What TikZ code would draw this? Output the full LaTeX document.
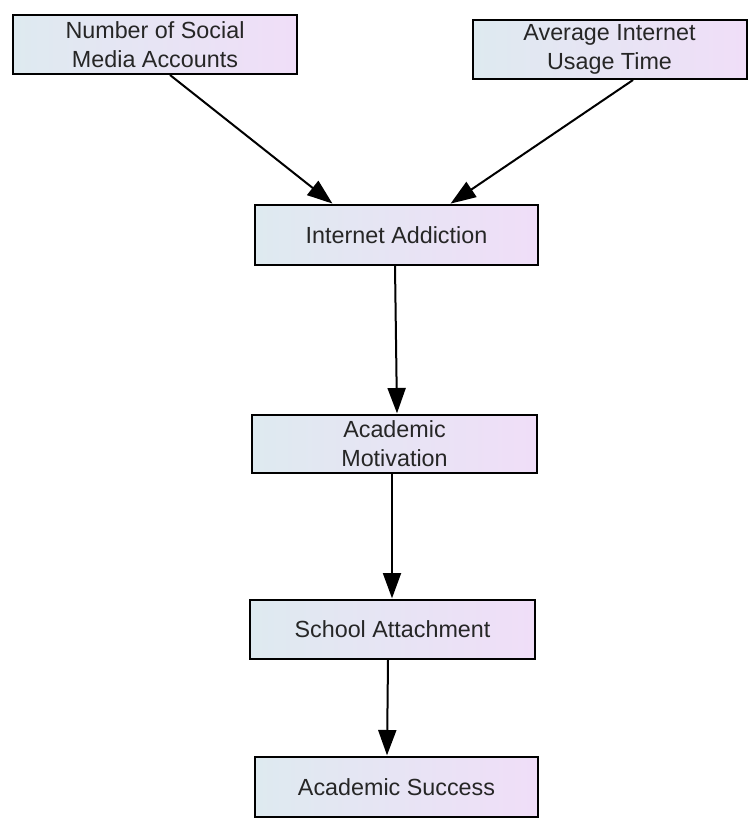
\documentclass[tikz,border=0pt]{standalone}
\usepackage{fontspec}
\setmainfont{Liberation Sans}
\usetikzlibrary{arrows.meta,calc}
\definecolor{boxleft}{RGB}{222,234,240}
\definecolor{boxright}{RGB}{240,222,248}
\tikzset{
  vbox/.style={draw=black, line width=1.5pt, left color=boxleft, right color=boxright,
    inner sep=0pt, align=center, text=black!85,
    font=\fontsize{17.5}{21.8}\selectfont},
  arr/.style={draw=black, line width=1.5pt, -{Triangle[length=19pt,width=13.5pt]}, shorten >=0.5pt}
}
\begin{document}
\begin{tikzpicture}[x=0.75pt,y=-0.75pt]
\useasboundingbox (0,0) rectangle (748,821);
\node[vbox, minimum width=284*0.75pt, minimum height=59*0.75pt] (b1) at (155,44.5) {Number of Social\\Media Accounts};
\node[vbox, minimum width=274*0.75pt, minimum height=59*0.75pt] (b2) at (609.5,49.5) {Average Internet\\Usage Time};
\node[vbox, minimum width=283*0.75pt, minimum height=60*0.75pt] (b3) at (396.5,235) {Internet Addiction};
\node[vbox, minimum width=285*0.75pt, minimum height=58*0.75pt] (b4) at (394.5,444) {Academic\\Motivation};
\node[vbox, minimum width=285*0.75pt, minimum height=59*0.75pt] (b5) at (392.5,629.5) {School Attachment};
\node[vbox, minimum width=283*0.75pt, minimum height=60*0.75pt] (b6) at (396.5,787) {Academic Success};
\draw[arr] ($(b1.south)+(15,0)$) -- ($(b3.north)+(-63.5,0)$);
\draw[arr] ($(b2.south)+(23.5,0)$) -- ($(b3.north)+(53.5,0)$);
\draw[arr] ($(b3.south)+(-1.5,0)$) -- ($(b4.north)+(2.5,0)$);
\draw[arr] ($(b4.south)+(-2.5,0)$) -- ($(b5.north)+(-0.5,0)$);
\draw[arr] ($(b5.south)+(-4.5,0)$) -- ($(b6.north)+(-9.5,0)$);
\end{tikzpicture}
\end{document}
